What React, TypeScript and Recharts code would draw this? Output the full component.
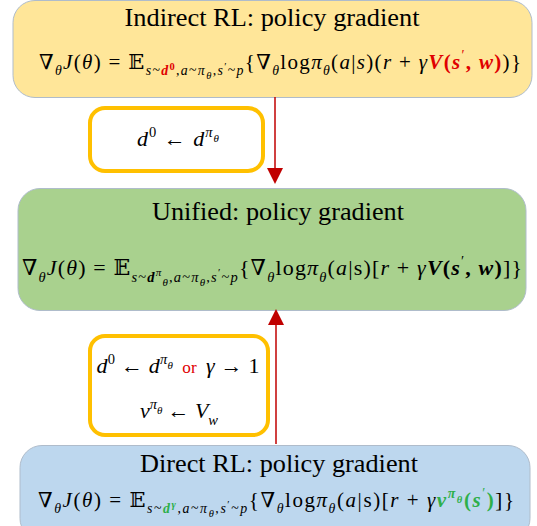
import {
  ComposedChart,
  XAxis,
  YAxis,
  Scatter,
  ReferenceArea,
  ReferenceLine,
  ReferenceDot,
} from "recharts";

const W = 537;
const H = 526;

// the three big panels
const panelNames = ["indirect", "unified", "direct"];
const panelLeft = [13, 18, 20];
const panelRight = [532, 526, 530];
const panelTop = [0, 188, 445];
const panelBottom = [97, 310, 540];
const panelFill = ["#FFE699", "#A9D18E", "#BDD7EE"];

// the two condition boxes
const condLeft = [90, 90];
const condRight = [263, 268];
const condTop = [108, 336];
const condBottom = [171, 435];

// arrows (x, tail y, tip y)
const arrowX = [275, 276];
const arrowFrom = [97, 444];
const arrowTo = [184, 309];

const titles = [
  "Indirect RL: policy gradient",
  "Unified: policy gradient",
  "Direct RL: policy gradient",
];
const titleX = [272, 278, 279];
const titleY = [18, 212, 464];
const titleWidth = [295, 252, 278];

type Lv = "b" | "sub" | "sup" | "ss" | "sp" | "sb" | "or";
type Seg = { t: string; lv?: Lv; it?: boolean; bd?: boolean; hl?: "red" | "green" };

const fIndirect: Seg[] = [
  { t: "∇" }, { t: "θ", lv: "sub", it: true },
  { t: "J", it: true }, { t: "(" }, { t: "θ", it: true }, { t: ") = 𝔼" },
  { t: "s", lv: "sub", it: true }, { t: "~", lv: "sub" },
  { t: "d", lv: "sub", it: true, bd: true, hl: "red" }, { t: "0", lv: "sp", bd: true, hl: "red" },
  { t: ",", lv: "sub" }, { t: "a", lv: "sub", it: true }, { t: "~", lv: "sub" }, { t: "π", lv: "sub", it: true },
  { t: "θ", lv: "ss", it: true }, { t: ",", lv: "sub" }, { t: "s", lv: "sub", it: true },
  { t: "′", lv: "sp" }, { t: "~", lv: "sub" }, { t: "p", lv: "sub", it: true },
  { t: "{∇" }, { t: "θ", lv: "sub", it: true }, { t: "log" }, { t: "π", it: true },
  { t: "θ", lv: "sub", it: true }, { t: "(" }, { t: "a", it: true }, { t: "|" }, { t: "s", it: true },
  { t: ")(" }, { t: "r", it: true }, { t: " + " }, { t: "γ", it: true },
  { t: "V", it: true, bd: true, hl: "red" }, { t: "(", hl: "red", bd: true },
  { t: "s", it: true, bd: true, hl: "red" }, { t: "′", lv: "sup", hl: "red" },
  { t: ", ", hl: "red", bd: true }, { t: "w", it: true, bd: true, hl: "red" }, { t: ")", hl: "red", bd: true },
  { t: ")}" },
];

const fUnified: Seg[] = [
  { t: "∇" }, { t: "θ", lv: "sub", it: true },
  { t: "J", it: true }, { t: "(" }, { t: "θ", it: true }, { t: ") = 𝔼" },
  { t: "s", lv: "sub", it: true }, { t: "~", lv: "sub" },
  { t: "d", lv: "sub", it: true, bd: true }, { t: "π", lv: "sp", it: true }, { t: "θ", lv: "ss", it: true },
  { t: ",", lv: "sub" }, { t: "a", lv: "sub", it: true }, { t: "~", lv: "sub" }, { t: "π", lv: "sub", it: true },
  { t: "θ", lv: "ss", it: true }, { t: ",", lv: "sub" }, { t: "s", lv: "sub", it: true },
  { t: "′", lv: "sp" }, { t: "~", lv: "sub" }, { t: "p", lv: "sub", it: true },
  { t: "{∇" }, { t: "θ", lv: "sub", it: true }, { t: "log" }, { t: "π", it: true },
  { t: "θ", lv: "sub", it: true }, { t: "(" }, { t: "a", it: true }, { t: "|s)[" },
  { t: "r", it: true }, { t: " + " }, { t: "γ", it: true },
  { t: "V", it: true, bd: true }, { t: "(", bd: true }, { t: "s", it: true, bd: true },
  { t: "′", lv: "sup" }, { t: ", ", bd: true }, { t: "w", it: true, bd: true }, { t: ")", bd: true },
  { t: "]}" },
];

const fDirect: Seg[] = [
  { t: "∇" }, { t: "θ", lv: "sub", it: true },
  { t: "J", it: true }, { t: "(" }, { t: "θ", it: true }, { t: ") = 𝔼" },
  { t: "s", lv: "sub", it: true }, { t: "~", lv: "sub" },
  { t: "d", lv: "sub", it: true, bd: true, hl: "green" }, { t: "γ", lv: "sp", it: true, bd: true, hl: "green" },
  { t: ",", lv: "sub" }, { t: "a", lv: "sub", it: true }, { t: "~", lv: "sub" }, { t: "π", lv: "sub", it: true },
  { t: "θ", lv: "ss", it: true }, { t: ",", lv: "sub" }, { t: "s", lv: "sub", it: true },
  { t: "′", lv: "sp" }, { t: "~", lv: "sub" }, { t: "p", lv: "sub", it: true },
  { t: "{∇" }, { t: "θ", lv: "sub", it: true }, { t: "log" }, { t: "π", it: true },
  { t: "θ", lv: "sub", it: true }, { t: "(" }, { t: "a", it: true }, { t: "|s)[" },
  { t: "r", it: true }, { t: " + " }, { t: "γ", it: true },
  { t: "v", it: true, bd: true, hl: "green" }, { t: "π", lv: "sup", it: true, bd: true, hl: "green" },
  { t: "θ", lv: "sb", it: true, bd: true, hl: "green" },
  { t: "(", bd: true, hl: "green" }, { t: "s", it: true, bd: true, hl: "green" },
  { t: "′", lv: "sup", hl: "green" }, { t: ")", bd: true, hl: "green" },
  { t: "]}" },
];

const cond1: Seg[] = [
  { t: "d", it: true }, { t: "0", lv: "sup" }, { t: " ← " }, { t: "d", it: true },
  { t: "π", lv: "sup", it: true }, { t: "θ", lv: "sb", it: true },
];
const cond2a: Seg[] = [
  { t: "d", it: true }, { t: "0", lv: "sup" }, { t: " ← " }, { t: "d", it: true },
  { t: "π", lv: "sup", it: true }, { t: "θ", lv: "sb", it: true },
  { t: "  or  ", hl: "red", lv: "or" }, { t: "γ", it: true }, { t: " → 1" },
];
const cond2b: Seg[] = [
  { t: "v", it: true }, { t: "π", lv: "sup", it: true }, { t: "θ", lv: "sb", it: true },
  { t: " ← " }, { t: "V", it: true }, { t: "w", lv: "sub", it: true },
];

const formulas = [fIndirect, fUnified, fDirect, cond1, cond2a, cond2b];
const formulaX = [280, 272, 276, 178, 178, 179];
const formulaY = [62, 268, 500, 139, 366, 411];
const formulaWidth = [482, 500, 476, 82, 163, 78];
const formulaSize = [21, 22, 21, 22, 22, 22];

const labelPoints = formulas.map((_, i) => ({ x: formulaX[i], y: formulaY[i], id: i }));
const titlePoints = titles.map((_, i) => ({ x: titleX[i], y: titleY[i], id: i }));

const colors = { red: "#E00000", green: "#2EAF4A" };
const shift: Record<string, number> = { b: 0, sub: 0.3, sup: -0.42, ss: 0.48, sp: 0.02, sb: -0.22, or: 0 };
const scale: Record<string, number> = { b: 1, sub: 0.66, sup: 0.66, ss: 0.5, sp: 0.5, sb: 0.5, or: 0.78 };
const serif = "'Liberation Serif', 'DejaVu Serif', serif";

function MathText({ segs, cx, cy, size, width }: any) {
  let cur = 0;
  return (
    <text
      x={cx}
      y={cy + size * 0.34}
      textAnchor="middle"
      fontFamily={serif}
      fontSize={size}
      fill="#000"
      textLength={width}
      lengthAdjust="spacing"
    >
      {segs.map((s: Seg, k: number) => {
        const lv = s.lv || "b";
        const target = shift[lv] * size;
        const dy = target - cur;
        cur = target;
        return (
          <tspan
            key={k}
            dy={dy}
            fontSize={size * scale[lv]}
            fontStyle={s.it ? "italic" : "normal"}
            fontWeight={s.bd ? "bold" : "normal"}
            fill={s.hl ? colors[s.hl] : "#000"}
            style={{ whiteSpace: "pre" }}
          >
            {s.t}
          </tspan>
        );
      })}
    </text>
  );
}

export default function App() {
  return (
    <div style={{ position: "absolute", left: 0, top: 0, background: "#fff" }}>
      <ComposedChart width={W} height={H} margin={{ top: 0, right: 0, bottom: 0, left: 0 }}>
        <XAxis type="number" dataKey="x" domain={[0, W]} hide allowDataOverflow />
        <YAxis type="number" dataKey="y" domain={[0, H]} reversed hide allowDataOverflow />

        {panelNames.map((n, i) => (
          <ReferenceArea
            key={n}
            x1={panelLeft[i]}
            x2={panelRight[i]}
            y1={panelTop[i]}
            y2={panelBottom[i]}
            ifOverflow="visible"
            shape={(p: any) => (
              <rect
                x={p.x}
                y={p.y + 0.5}
                width={p.width}
                height={p.height}
                rx={22}
                fill={panelFill[i]}
                stroke="#AFBCCB"
                strokeWidth={1}
              />
            )}
          />
        ))}

        {condLeft.map((l, i) => (
          <ReferenceArea
            key={"c" + i}
            x1={l}
            x2={condRight[i]}
            y1={condTop[i]}
            y2={condBottom[i]}
            ifOverflow="visible"
            shape={(p: any) => (
              <rect
                x={p.x}
                y={p.y}
                width={p.width}
                height={p.height}
                rx={15}
                fill="#fff"
                stroke="#FFC000"
                strokeWidth={4}
              />
            )}
          />
        ))}

        {arrowX.map((x, i) => (
          <ReferenceLine
            key={"a" + i}
            segment={[
              { x, y: arrowFrom[i] },
              { x, y: arrowTo[i] + (arrowTo[i] > arrowFrom[i] ? -10 : 10) },
            ]}
            stroke="#C00000"
            strokeWidth={1.5}
            ifOverflow="visible"
          />
        ))}
        {arrowX.map((x, i) => (
          <ReferenceDot
            key={"h" + i}
            x={x}
            y={arrowTo[i]}
            ifOverflow="visible"
            shape={(p: any) => {
              const d = arrowTo[i] > arrowFrom[i] ? -1 : 1;
              return (
                <path
                  d={`M${p.cx},${p.cy} L${p.cx - 8},${p.cy + d * 16} L${p.cx + 8},${p.cy + d * 16} Z`}
                  fill="#C00000"
                />
              );
            }}
          />
        ))}

        <Scatter
          data={titlePoints}
          isAnimationActive={false}
          shape={(p: any) => (
            <text
              x={p.cx}
              y={p.cy + 8}
              textAnchor="middle"
              fontFamily={serif}
              fontSize={25}
              fill="#000"
              textLength={titleWidth[p.payload.id]}
              lengthAdjust="spacingAndGlyphs"
            >
              {titles[p.payload.id]}
            </text>
          )}
        />
        <Scatter
          data={labelPoints}
          isAnimationActive={false}
          shape={(p: any) => {
            const i = p.payload.id;
            return (
              <MathText
                segs={formulas[i]}
                cx={p.cx}
                cy={p.cy}
                size={formulaSize[i]}
                width={formulaWidth[i]}
              />
            );
          }}
        />
      </ComposedChart>
    </div>
  );
}
